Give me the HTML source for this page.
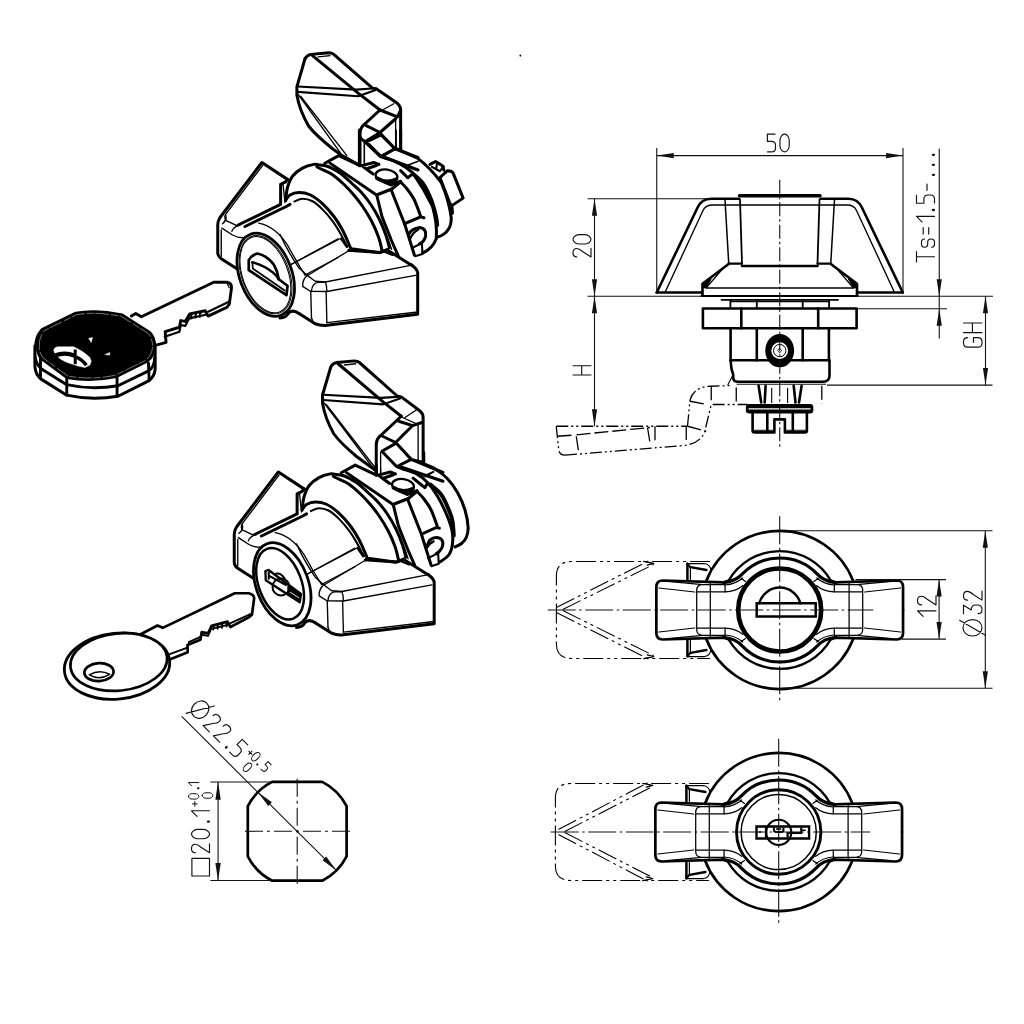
<!DOCTYPE html>
<html><head><meta charset="utf-8"><title>Cam lock drawing</title>
<style>
html,body{margin:0;padding:0;background:#fff;font-family:"Liberation Sans",sans-serif;}
svg{display:block}
</style></head><body>
<svg width="1024" height="1024" viewBox="0 0 1024 1024">
<rect width="1024" height="1024" fill="#fff"/>
<g id="side">
<path d="M656.75,292.5L697.6,207.5Q701.5,199 711,198.75L739,198.75" fill="none" stroke="#000" stroke-width="2.6" stroke-linecap="round" stroke-linejoin="round" />
<path d="M656.75,292.5L701.5,292.5" fill="none" stroke="#000" stroke-width="2.6" stroke-linecap="round" stroke-linejoin="round" />
<path d="M665,292.5L703,210.5Q705.5,205 712.5,205L779.75,205" fill="none" stroke="#000" stroke-width="1.35" stroke-linecap="round" stroke-linejoin="round" />
<path d="M725,199.5L728.75,263.75" fill="none" stroke="#000" stroke-width="1.5" stroke-linecap="round" stroke-linejoin="round" />
<path d="M740,199.5L742,263.75" fill="none" stroke="#000" stroke-width="1.8" stroke-linecap="round" stroke-linejoin="round" />
<path d="M728.5,263.6L742,263.6" fill="none" stroke="#000" stroke-width="2.2" stroke-linecap="round" stroke-linejoin="round" />
<path d="M742,266L779.75,266" fill="none" stroke="#000" stroke-width="2.6" stroke-linecap="round" stroke-linejoin="round" />
<path d="M728,264.5L702.5,283.75L702.5,295" fill="none" stroke="#000" stroke-width="2.6" stroke-linecap="round" stroke-linejoin="round" />
<path d="M721.5,270L706.5,287.6" fill="none" stroke="#000" stroke-width="1.35" stroke-linecap="round" stroke-linejoin="round" />
<path d="M711,279L706,287.6L702.5,287.6L702.5,283.75Z" fill="#000" stroke="#000" stroke-width="1.2" stroke-linecap="round" stroke-linejoin="round" />
<path d="M706,288L779.75,288" fill="none" stroke="#000" stroke-width="1.6" stroke-linecap="round" stroke-linejoin="round" />
<path d="M701.5,296L779.75,296" fill="none" stroke="#000" stroke-width="2.2" stroke-linecap="round" stroke-linejoin="round" />
<path d="M721.5,299.8L779.75,299.8" fill="none" stroke="#000" stroke-width="1.8" stroke-linecap="round" stroke-linejoin="round" />
<path d="M730.4,300L730.4,308M756.8,300L756.8,308" fill="none" stroke="#000" stroke-width="1.8" stroke-linecap="round" stroke-linejoin="round" />
<path d="M730.4,301.5L779.75,301.5" fill="none" stroke="#000" stroke-width="1.35" stroke-linecap="round" stroke-linejoin="round" />
<path d="M779.75,308.5L702.9,308.5L702.9,328.3L779.75,328.3" fill="none" stroke="#000" stroke-width="2.6" stroke-linecap="round" stroke-linejoin="round" />
<path d="M741.3,308.5L741.3,328.3" fill="none" stroke="#000" stroke-width="2.6" stroke-linecap="round" stroke-linejoin="round" />
<path d="M730.6,328.3L730.6,360.3M756.8,328.3L756.8,360.3" fill="none" stroke="#000" stroke-width="2.6" stroke-linecap="round" stroke-linejoin="round" />
<path d="M730.6,360.3L779.75,360.3" fill="none" stroke="#000" stroke-width="2.6" stroke-linecap="round" stroke-linejoin="round" />
<path d="M902.75,292.5L861.9,207.5Q858.0,199 848.5,198.75L820.5,198.75" fill="none" stroke="#000" stroke-width="2.6" stroke-linecap="round" stroke-linejoin="round" />
<path d="M902.75,292.5L858.0,292.5" fill="none" stroke="#000" stroke-width="2.6" stroke-linecap="round" stroke-linejoin="round" />
<path d="M894.5,292.5L856.5,210.5Q854.0,205 847.0,205L779.75,205" fill="none" stroke="#000" stroke-width="1.35" stroke-linecap="round" stroke-linejoin="round" />
<path d="M834.5,199.5L830.75,263.75" fill="none" stroke="#000" stroke-width="1.5" stroke-linecap="round" stroke-linejoin="round" />
<path d="M819.5,199.5L817.5,263.75" fill="none" stroke="#000" stroke-width="1.8" stroke-linecap="round" stroke-linejoin="round" />
<path d="M831.0,263.6L817.5,263.6" fill="none" stroke="#000" stroke-width="2.2" stroke-linecap="round" stroke-linejoin="round" />
<path d="M817.5,266L779.75,266" fill="none" stroke="#000" stroke-width="2.6" stroke-linecap="round" stroke-linejoin="round" />
<path d="M831.5,264.5L857.0,283.75L857.0,295" fill="none" stroke="#000" stroke-width="2.6" stroke-linecap="round" stroke-linejoin="round" />
<path d="M838.0,270L853.0,287.6" fill="none" stroke="#000" stroke-width="1.35" stroke-linecap="round" stroke-linejoin="round" />
<path d="M848.5,279L853.5,287.6L857.0,287.6L857.0,283.75Z" fill="#000" stroke="#000" stroke-width="1.2" stroke-linecap="round" stroke-linejoin="round" />
<path d="M853.5,288L779.75,288" fill="none" stroke="#000" stroke-width="1.6" stroke-linecap="round" stroke-linejoin="round" />
<path d="M858.0,296L779.75,296" fill="none" stroke="#000" stroke-width="2.2" stroke-linecap="round" stroke-linejoin="round" />
<path d="M838.0,299.8L779.75,299.8" fill="none" stroke="#000" stroke-width="1.8" stroke-linecap="round" stroke-linejoin="round" />
<path d="M829.1,300L829.1,308M802.7,300L802.7,308" fill="none" stroke="#000" stroke-width="1.8" stroke-linecap="round" stroke-linejoin="round" />
<path d="M829.1,301.5L779.75,301.5" fill="none" stroke="#000" stroke-width="1.35" stroke-linecap="round" stroke-linejoin="round" />
<path d="M779.75,308.5L856.6,308.5L856.6,328.3L779.75,328.3" fill="none" stroke="#000" stroke-width="2.6" stroke-linecap="round" stroke-linejoin="round" />
<path d="M818.2,308.5L818.2,328.3" fill="none" stroke="#000" stroke-width="2.6" stroke-linecap="round" stroke-linejoin="round" />
<path d="M828.9,328.3L828.9,360.3M802.7,328.3L802.7,360.3" fill="none" stroke="#000" stroke-width="2.6" stroke-linecap="round" stroke-linejoin="round" />
<path d="M828.9,360.3L779.75,360.3" fill="none" stroke="#000" stroke-width="2.6" stroke-linecap="round" stroke-linejoin="round" />
<path d="M739.5,195.8L820.0,195.8" fill="none" stroke="#000" stroke-width="3.4" stroke-linecap="round" stroke-linejoin="round" />
<path d="M730.6,360.3L731.5,369L733.2,374.4L733.2,377.5Q733.2,381.8 738,381.8L822,381.8Q829.5,381.8 829.5,376L829.5,360.3" fill="none" stroke="#000" stroke-width="2.6" stroke-linecap="round" stroke-linejoin="round" />
<path d="M736.6,384.3L826.2,384.3" fill="none" stroke="#111" stroke-width="1.1" stroke-linecap="butt" stroke-linejoin="round" />
<path d="M727.8,385L732.4,376" fill="none" stroke="#111" stroke-width="1.2" stroke-linecap="butt" stroke-linejoin="round" />
<ellipse cx="779.7" cy="350.6" rx="14.4" ry="16.7" fill="#000" stroke="#000" stroke-width="0"/>
<circle cx="779.7" cy="350.6" r="8.4" fill="#fff" stroke="#000" stroke-width="0"/>
<circle cx="779.7" cy="350.6" r="6.2" fill="none" stroke="#000" stroke-width="1.0"/>
<path d="M779.7,348.3L781.6,350.6L779.7,352.9L777.8,350.6Z" fill="none" stroke="#000" stroke-width="0.8" stroke-linecap="round" stroke-linejoin="round" />
<path d="M758.6,385.8L761.2,402.5M765.6,385.8L764.7,402.5M801.6,385.8L799,402.5M793.7,385.8L795.5,402.5" fill="none" stroke="#000" stroke-width="2.6" stroke-linecap="round" stroke-linejoin="round" />
<path d="M771.7,388.4L771.7,402.5M787.6,388.4L787.6,402.5" fill="none" stroke="#000" stroke-width="1.1" stroke-linecap="round" stroke-linejoin="round" />
<rect x="745.9" y="404" width="67.4" height="9.4" rx="3.2" fill="#000"/>
<path d="M748.5,408.8L810.6,408.8" fill="none" stroke="#fff" stroke-width="1.2" stroke-linecap="butt" stroke-linejoin="round" />
<path d="M752.6,413L752.6,430.5Q752.6,432.4 754.5,432.4L774.4,432.4L774.4,419.4L784.9,419.4L784.9,432.4L805,432.4Q806.9,432.4 806.9,430.5L806.9,413" fill="none" stroke="#000" stroke-width="2.6" stroke-linecap="round" stroke-linejoin="round" />
<path d="M767.3,413L767.3,432M792.8,413L792.8,432" fill="none" stroke="#000" stroke-width="2.6" stroke-linecap="round" stroke-linejoin="round" />
<path d="M753,430.3L774,430.3M785,430.3L806.5,430.3" fill="none" stroke="#000" stroke-width="1" stroke-linecap="round" stroke-linejoin="round" />
<path d="M779.75,179.8L779.75,447" fill="none" stroke="#111" stroke-width="1.1" stroke-linecap="butt" stroke-linejoin="round" stroke-dasharray="14 3 2.5 3" />
<path d="M556.25,426.25L687.5,426.25M556.25,426.25L558.75,450Q559.5,455 565,455.2M565,455.2L680,445.8Q699,445 704.5,432.5L711.25,404.5L747.5,404.5M687.5,426.25L690,400Q694,386.5 711,386.25L732.5,385.5" fill="none" stroke="#000" stroke-width="1.3" stroke-linecap="butt" stroke-linejoin="round" stroke-dasharray="12 3 2 3 2 3" />
<path d="M557.5,436.25L575,435M576.5,434.8L650,427.5M655,426.25L655,441.25M647.5,427.5L650,442.5M576.25,436.25L578.75,452.5M686.25,426.25L686.25,440M687.5,426.25L706.25,431.25M690,401.25L706.25,404.25M711.25,386.25L711.25,404.25M736.25,387.5L736.25,404.25M821.8,385.8L821.8,404" fill="none" stroke="#000" stroke-width="1.3" stroke-linecap="butt" stroke-linejoin="round" stroke-dasharray="14 4" />
<path d="M656.75,148L656.75,292.5" fill="none" stroke="#111" stroke-width="1.1" stroke-linecap="butt" stroke-linejoin="round" />
<path d="M903,148L903,292.5" fill="none" stroke="#111" stroke-width="1.1" stroke-linecap="butt" stroke-linejoin="round" />
<path d="M656.75,155.6L903,155.6" fill="none" stroke="#111" stroke-width="1.1" stroke-linecap="butt" stroke-linejoin="round" />
<path d="M656.75,155.60L673.75,158.20L673.75,153.00Z" fill="#111" stroke="none"/>
<path d="M903.00,155.60L886.00,153.00L886.00,158.20Z" fill="#111" stroke="none"/>
<g transform="translate(766.6,151.9) rotate(0) scale(0.9889)" fill="none" stroke="#111" stroke-linecap="round" stroke-linejoin="round"><path d="M8.6,-18L0.8,-18L0.8,-10.6L4.8,-10.6C7.4,-10.6 9,-9 9,-6.6L9,-4C9,-1.6 7.4,0 4.8,0L1,0" transform="translate(0.00,0)" stroke-width="1.16"/><path d="M5,-18C2.2,-18 0.3,-14.5 0.3,-11.5L0.3,-6.5C0.3,-3.5 2.2,0 5,0C7.8,0 9.7,-3.5 9.7,-6.5L9.7,-11.5C9.7,-14.5 7.8,-18 5,-18Z" transform="translate(13.20,0)" stroke-width="1.16"/></g>
<path d="M587.5,198.75L710,198.75" fill="none" stroke="#111" stroke-width="1.1" stroke-linecap="butt" stroke-linejoin="round" />
<path d="M587.5,296.25L701,296.25" fill="none" stroke="#111" stroke-width="1.1" stroke-linecap="butt" stroke-linejoin="round" />
<path d="M594.5,198.75L594.5,426.25" fill="none" stroke="#111" stroke-width="1.1" stroke-linecap="butt" stroke-linejoin="round" />
<path d="M594.50,198.75L591.90,215.75L597.10,215.75Z" fill="#111" stroke="none"/>
<path d="M594.50,296.25L597.10,279.25L591.90,279.25Z" fill="#111" stroke="none"/>
<path d="M594.50,296.25L591.90,313.25L597.10,313.25Z" fill="#111" stroke="none"/>
<path d="M594.50,426.25L597.10,409.25L591.90,409.25Z" fill="#111" stroke="none"/>
<g transform="translate(591,257.5) rotate(-90) scale(1.0000)" fill="none" stroke="#111" stroke-linecap="round" stroke-linejoin="round"><path d="M0.5,-14C0.5,-16.8 2.2,-18 4.8,-18C7.4,-18 9,-16.8 9,-14.2C9,-12 8,-10.8 6,-8.5L0.5,0L9.3,0" transform="translate(0.00,0)" stroke-width="1.15"/><path d="M5,-18C2.2,-18 0.3,-14.5 0.3,-11.5L0.3,-6.5C0.3,-3.5 2.2,0 5,0C7.8,0 9.7,-3.5 9.7,-6.5L9.7,-11.5C9.7,-14.5 7.8,-18 5,-18Z" transform="translate(13.20,0)" stroke-width="1.15"/></g>
<g transform="translate(591,375.5) rotate(-90) scale(1.0000)" fill="none" stroke="#111" stroke-linecap="round" stroke-linejoin="round"><path d="M0.5,-18L0.5,0M9.8,-18L9.8,0M0.5,-9.3L9.8,-9.3" transform="translate(0.00,0)" stroke-width="1.15"/></g>
<path d="M939.25,148.75L939.25,338.5" fill="none" stroke="#111" stroke-width="1.1" stroke-linecap="butt" stroke-linejoin="round" />
<path d="M939.25,296.25L941.85,279.25L936.65,279.25Z" fill="#111" stroke="none"/>
<path d="M939.25,308.75L936.65,325.75L941.85,325.75Z" fill="#111" stroke="none"/>
<path d="M859,296.25L993,296.25" fill="none" stroke="#111" stroke-width="1.1" stroke-linecap="butt" stroke-linejoin="round" />
<path d="M857,308.75L947,308.75" fill="none" stroke="#111" stroke-width="1.1" stroke-linecap="butt" stroke-linejoin="round" />
<path d="M985.5,296.25L985.5,385.1" fill="none" stroke="#111" stroke-width="1.1" stroke-linecap="butt" stroke-linejoin="round" />
<path d="M985.50,296.25L982.90,313.25L988.10,313.25Z" fill="#111" stroke="none"/>
<path d="M985.50,385.10L988.10,368.10L982.90,368.10Z" fill="#111" stroke="none"/>
<path d="M827,385.1L992.5,385.1" fill="none" stroke="#111" stroke-width="1.1" stroke-linecap="butt" stroke-linejoin="round" />
<g transform="translate(982,347.7) rotate(-90) scale(1.0278)" fill="none" stroke="#111" stroke-linecap="round" stroke-linejoin="round"><path d="M9.8,-14C9.8,-16.8 8.2,-18 5.8,-18L4.5,-18C2.1,-18 0.5,-16.8 0.5,-14L0.5,-4C0.5,-1.2 2.1,0 4.5,0L5.8,0C8.2,0 9.8,-1.2 9.8,-4L9.8,-8.3L5.2,-8.3" transform="translate(0.00,0)" stroke-width="1.12"/><path d="M0.5,-18L0.5,0M9.8,-18L9.8,0M0.5,-9.3L9.8,-9.3" transform="translate(14.20,0)" stroke-width="1.12"/></g>
<g transform="translate(934.5,262) rotate(-90) scale(1.0000)" fill="none" stroke="#111" stroke-linecap="round" stroke-linejoin="round"><path d="M0,-18L10.5,-18M5.25,-18L5.25,0" transform="translate(0.00,0)" stroke-width="1.15"/><path d="M8.8,-10C8.8,-12 7.6,-13 5.6,-13L3.8,-13C1.8,-13 0.6,-12 0.6,-10C0.6,-7.8 1.8,-6.8 3.8,-6.8L5.6,-6.8C7.6,-6.8 8.8,-5.8 8.8,-3.4C8.8,-1 7.6,0 5.6,0L3.8,0C1.8,0 0.6,-1 0.6,-2.8" transform="translate(14.20,0)" stroke-width="1.15"/><path d="M0.5,-11.3L7,-11.3M0.5,-5.8L7,-5.8" transform="translate(27.40,0)" stroke-width="1.15"/><path d="M1.5,-12.5L7,-18L7,0" transform="translate(38.60,0)" stroke-width="1.15"/><path d="M1.2,-1.6L1.2,-0.6" transform="translate(50.80,0)" stroke-width="2.30" /><path d="M8.6,-18L0.8,-18L0.8,-10.6L4.8,-10.6C7.4,-10.6 9,-9 9,-6.6L9,-4C9,-1.6 7.4,0 4.8,0L1,0" transform="translate(58.00,0)" stroke-width="1.15"/><path d="M0.5,-7.5L6.8,-7.5" transform="translate(71.20,0)" stroke-width="1.15"/></g>
<g transform="translate(934.5,176) rotate(-90) scale(1.0000)" fill="none" stroke="#111" stroke-linecap="round" stroke-linejoin="round"><path d="M1.2,-1.6L1.2,-0.6" transform="translate(0.00,0)" stroke-width="2.30" /><path d="M1.2,-1.6L1.2,-0.6" transform="translate(10.00,0)" stroke-width="2.30" /><path d="M1.2,-1.6L1.2,-0.6" transform="translate(20.00,0)" stroke-width="2.30" /></g>
</g>
<g id="top">
<g transform="translate(779.7,610)" ><g transform="scale(1,1)" ><path d="M-51.2,-29.1A58.9,58.9 0 0 1 0,-58.9" fill="none" stroke="#000" stroke-width="2.3" stroke-linecap="round" stroke-linejoin="round" />
<path d="M-56,-27.3C-47,-28.5 -42,-31 -37.6,-35.9A52,52 0 0 1 0,-52" fill="none" stroke="#000" stroke-width="3.1" stroke-linecap="round" stroke-linejoin="round" />
<path d="M-51.2,-29.1L-56,-27.6L-117,-29.5Q-123.35,-29.5 -123.35,-23L-123.35,0" fill="none" stroke="#000" stroke-width="2.7" stroke-linecap="round" stroke-linejoin="round" />
<path d="M-120.8,-22L-85,-18" fill="none" stroke="#000" stroke-width="1.25" stroke-linecap="round" stroke-linejoin="round" />
<path d="M-83,0L-83,-19.5Q-83,-25.3 -77,-25.3L-54.6,-25.3L-54.6,-18.2M-83,-18.2L-54.6,-18.2M-77,-25.3L-112,-28.7" fill="none" stroke="#000" stroke-width="1.25" stroke-linecap="round" stroke-linejoin="round" />
<path d="M-69.4,0L-69.4,-27" fill="none" stroke="#000" stroke-width="1.25" stroke-linecap="round" stroke-linejoin="round" />
<path d="M-54.6,-25C-48,-25.5 -42,-27.5 -37.1,-32M-38.5,-31.6L-34.2,-28.6" fill="none" stroke="#000" stroke-width="1.25" stroke-linecap="round" stroke-linejoin="round" />
<path d="M-54.6,-18.2C-47,-18.5 -41,-21 -37,-24.3" fill="none" stroke="#000" stroke-width="1.25" stroke-linecap="round" stroke-linejoin="round" /></g>
<g transform="scale(-1,1)" ><path d="M-51.2,-29.1A58.9,58.9 0 0 1 0,-58.9" fill="none" stroke="#000" stroke-width="2.3" stroke-linecap="round" stroke-linejoin="round" />
<path d="M-56,-27.3C-47,-28.5 -42,-31 -37.6,-35.9A52,52 0 0 1 0,-52" fill="none" stroke="#000" stroke-width="3.1" stroke-linecap="round" stroke-linejoin="round" />
<path d="M-51.2,-29.1L-56,-27.6L-117,-29.5Q-123.35,-29.5 -123.35,-23L-123.35,0" fill="none" stroke="#000" stroke-width="2.7" stroke-linecap="round" stroke-linejoin="round" />
<path d="M-120.8,-22L-85,-18" fill="none" stroke="#000" stroke-width="1.25" stroke-linecap="round" stroke-linejoin="round" />
<path d="M-83,0L-83,-19.5Q-83,-25.3 -77,-25.3L-54.6,-25.3L-54.6,-18.2M-83,-18.2L-54.6,-18.2M-77,-25.3L-112,-28.7" fill="none" stroke="#000" stroke-width="1.25" stroke-linecap="round" stroke-linejoin="round" />
<path d="M-69.4,0L-69.4,-27" fill="none" stroke="#000" stroke-width="1.25" stroke-linecap="round" stroke-linejoin="round" />
<path d="M-54.6,-25C-48,-25.5 -42,-27.5 -37.1,-32M-38.5,-31.6L-34.2,-28.6" fill="none" stroke="#000" stroke-width="1.25" stroke-linecap="round" stroke-linejoin="round" />
<path d="M-54.6,-18.2C-47,-18.5 -41,-21 -37,-24.3" fill="none" stroke="#000" stroke-width="1.25" stroke-linecap="round" stroke-linejoin="round" /></g>
<g transform="scale(1,-1)" ><path d="M-51.2,-29.1A58.9,58.9 0 0 1 0,-58.9" fill="none" stroke="#000" stroke-width="2.3" stroke-linecap="round" stroke-linejoin="round" />
<path d="M-56,-27.3C-47,-28.5 -42,-31 -37.6,-35.9A52,52 0 0 1 0,-52" fill="none" stroke="#000" stroke-width="3.1" stroke-linecap="round" stroke-linejoin="round" />
<path d="M-51.2,-29.1L-56,-27.6L-117,-29.5Q-123.35,-29.5 -123.35,-23L-123.35,0" fill="none" stroke="#000" stroke-width="2.7" stroke-linecap="round" stroke-linejoin="round" />
<path d="M-120.8,-22L-85,-18" fill="none" stroke="#000" stroke-width="1.25" stroke-linecap="round" stroke-linejoin="round" />
<path d="M-83,0L-83,-19.5Q-83,-25.3 -77,-25.3L-54.6,-25.3L-54.6,-18.2M-83,-18.2L-54.6,-18.2M-77,-25.3L-112,-28.7" fill="none" stroke="#000" stroke-width="1.25" stroke-linecap="round" stroke-linejoin="round" />
<path d="M-69.4,0L-69.4,-27" fill="none" stroke="#000" stroke-width="1.25" stroke-linecap="round" stroke-linejoin="round" />
<path d="M-54.6,-25C-48,-25.5 -42,-27.5 -37.1,-32M-38.5,-31.6L-34.2,-28.6" fill="none" stroke="#000" stroke-width="1.25" stroke-linecap="round" stroke-linejoin="round" />
<path d="M-54.6,-18.2C-47,-18.5 -41,-21 -37,-24.3" fill="none" stroke="#000" stroke-width="1.25" stroke-linecap="round" stroke-linejoin="round" /></g>
<g transform="scale(-1,-1)" ><path d="M-51.2,-29.1A58.9,58.9 0 0 1 0,-58.9" fill="none" stroke="#000" stroke-width="2.3" stroke-linecap="round" stroke-linejoin="round" />
<path d="M-56,-27.3C-47,-28.5 -42,-31 -37.6,-35.9A52,52 0 0 1 0,-52" fill="none" stroke="#000" stroke-width="3.1" stroke-linecap="round" stroke-linejoin="round" />
<path d="M-51.2,-29.1L-56,-27.6L-117,-29.5Q-123.35,-29.5 -123.35,-23L-123.35,0" fill="none" stroke="#000" stroke-width="2.7" stroke-linecap="round" stroke-linejoin="round" />
<path d="M-120.8,-22L-85,-18" fill="none" stroke="#000" stroke-width="1.25" stroke-linecap="round" stroke-linejoin="round" />
<path d="M-83,0L-83,-19.5Q-83,-25.3 -77,-25.3L-54.6,-25.3L-54.6,-18.2M-83,-18.2L-54.6,-18.2M-77,-25.3L-112,-28.7" fill="none" stroke="#000" stroke-width="1.25" stroke-linecap="round" stroke-linejoin="round" />
<path d="M-69.4,0L-69.4,-27" fill="none" stroke="#000" stroke-width="1.25" stroke-linecap="round" stroke-linejoin="round" />
<path d="M-54.6,-25C-48,-25.5 -42,-27.5 -37.1,-32M-38.5,-31.6L-34.2,-28.6" fill="none" stroke="#000" stroke-width="1.25" stroke-linecap="round" stroke-linejoin="round" />
<path d="M-54.6,-18.2C-47,-18.5 -41,-21 -37,-24.3" fill="none" stroke="#000" stroke-width="1.25" stroke-linecap="round" stroke-linejoin="round" /></g>
<g ><path d="M-92.6,-46.5L-75,-46.5Q-69.5,-45.5 -68.6,-39.5L-72.2,-30" fill="none" stroke="#000" stroke-width="1.25" stroke-linecap="round" stroke-linejoin="round" />
<path d="M-92.3,-46.2L-92.3,-30.5" fill="none" stroke="#000" stroke-width="2.5" stroke-linecap="round" stroke-linejoin="round" />
<path d="M-92.3,-46.2L-89.3,-42.8L-73.2,-40" fill="none" stroke="#000" stroke-width="2.3" stroke-linecap="round" stroke-linejoin="round" />
<path d="M-89.3,-42.8L-89.3,-30.5" fill="none" stroke="#000" stroke-width="1.25" stroke-linecap="round" stroke-linejoin="round" /></g>
<g transform="scale(1,-1)" ><path d="M-92.6,-46.5L-75,-46.5Q-69.5,-45.5 -68.6,-39.5L-72.2,-30" fill="none" stroke="#000" stroke-width="1.25" stroke-linecap="round" stroke-linejoin="round" />
<path d="M-92.3,-46.2L-92.3,-30.5" fill="none" stroke="#000" stroke-width="2.5" stroke-linecap="round" stroke-linejoin="round" />
<path d="M-92.3,-46.2L-89.3,-42.8L-73.2,-40" fill="none" stroke="#000" stroke-width="2.3" stroke-linecap="round" stroke-linejoin="round" />
<path d="M-89.3,-42.8L-89.3,-30.5" fill="none" stroke="#000" stroke-width="1.25" stroke-linecap="round" stroke-linejoin="round" /></g>
<path d="M-69.6,-48.5L-208,-48.5Q-223.3,-48.5 -223.3,-34L-223.3,34Q-223.3,48.5 -208,48.5L-69.6,48.5" fill="none" stroke="#000" stroke-width="1.1" stroke-linecap="butt" stroke-linejoin="round" stroke-dasharray="20 4 3 4 3 4" />
<path d="M-223.3,-2.5L-131,-49.2M-217.0,-0.5L-126,-45.6" fill="none" stroke="#000" stroke-width="1.1" stroke-linecap="butt" stroke-linejoin="round" stroke-dasharray="20 4 3 4 3 4" />
<path d="M-136,-48.6L-126,-46.6L-132.5,-44.8" fill="none" stroke="#000" stroke-width="1.25" stroke-linecap="round" stroke-linejoin="round" />
<path d="M-223.3,2.5L-131,49.2M-217.0,0.5L-126,45.6" fill="none" stroke="#000" stroke-width="1.1" stroke-linecap="butt" stroke-linejoin="round" stroke-dasharray="20 4 3 4 3 4" />
<path d="M-136,48.6L-126,46.6L-132.5,44.8" fill="none" stroke="#000" stroke-width="1.25" stroke-linecap="round" stroke-linejoin="round" />
<path d="M-73.4,-29.3A79,79 0 0 1 73.4,-29.3M-73.4,29.3A79,79 0 0 0 73.4,29.3" fill="none" stroke="#000" stroke-width="2.6" stroke-linecap="round" stroke-linejoin="round" />
<circle cx="0" cy="0" r="41.5" fill="none" stroke="#000" stroke-width="4.6"/>
<path d="M-20.5,-6.8A21.4,21.4 0 0 1 20.7,-6.8" fill="none" stroke="#000" stroke-width="2.5" stroke-linecap="round" stroke-linejoin="round" />
<path d="M-23,-6.8L36,-6.8L36,6.4L-23,6.4Z" fill="none" stroke="#000" stroke-width="2.5" stroke-linecap="round" stroke-linejoin="miter" />
<path d="M-232,0L93.5,0" fill="none" stroke="#111" stroke-width="1.1" stroke-linecap="butt" stroke-linejoin="round" stroke-dasharray="28 3.5 2.5 3.5" />
<path d="M0,-93.75L0,92.5" fill="none" stroke="#111" stroke-width="1.1" stroke-linecap="butt" stroke-linejoin="round" stroke-dasharray="28 3.5 2.5 3.5" /></g>
<g transform="translate(778.7,832.0)" ><g transform="scale(1,1)" ><path d="M-51.2,-29.1A58.9,58.9 0 0 1 0,-58.9" fill="none" stroke="#000" stroke-width="2.3" stroke-linecap="round" stroke-linejoin="round" />
<path d="M-56,-27.3C-47,-28.5 -42,-31 -37.6,-35.9A52,52 0 0 1 0,-52" fill="none" stroke="#000" stroke-width="3.1" stroke-linecap="round" stroke-linejoin="round" />
<path d="M-51.2,-29.1L-56,-27.6L-117,-29.5Q-123.35,-29.5 -123.35,-23L-123.35,0" fill="none" stroke="#000" stroke-width="2.7" stroke-linecap="round" stroke-linejoin="round" />
<path d="M-120.8,-22L-85,-18" fill="none" stroke="#000" stroke-width="1.25" stroke-linecap="round" stroke-linejoin="round" />
<path d="M-83,0L-83,-19.5Q-83,-25.3 -77,-25.3L-54.6,-25.3L-54.6,-18.2M-83,-18.2L-54.6,-18.2M-77,-25.3L-112,-28.7" fill="none" stroke="#000" stroke-width="1.25" stroke-linecap="round" stroke-linejoin="round" />
<path d="M-69.4,0L-69.4,-27" fill="none" stroke="#000" stroke-width="1.25" stroke-linecap="round" stroke-linejoin="round" />
<path d="M-54.6,-25C-48,-25.5 -42,-27.5 -37.1,-32M-38.5,-31.6L-34.2,-28.6" fill="none" stroke="#000" stroke-width="1.25" stroke-linecap="round" stroke-linejoin="round" />
<path d="M-54.6,-18.2C-47,-18.5 -41,-21 -37,-24.3" fill="none" stroke="#000" stroke-width="1.25" stroke-linecap="round" stroke-linejoin="round" /></g>
<g transform="scale(-1,1)" ><path d="M-51.2,-29.1A58.9,58.9 0 0 1 0,-58.9" fill="none" stroke="#000" stroke-width="2.3" stroke-linecap="round" stroke-linejoin="round" />
<path d="M-56,-27.3C-47,-28.5 -42,-31 -37.6,-35.9A52,52 0 0 1 0,-52" fill="none" stroke="#000" stroke-width="3.1" stroke-linecap="round" stroke-linejoin="round" />
<path d="M-51.2,-29.1L-56,-27.6L-117,-29.5Q-123.35,-29.5 -123.35,-23L-123.35,0" fill="none" stroke="#000" stroke-width="2.7" stroke-linecap="round" stroke-linejoin="round" />
<path d="M-120.8,-22L-85,-18" fill="none" stroke="#000" stroke-width="1.25" stroke-linecap="round" stroke-linejoin="round" />
<path d="M-83,0L-83,-19.5Q-83,-25.3 -77,-25.3L-54.6,-25.3L-54.6,-18.2M-83,-18.2L-54.6,-18.2M-77,-25.3L-112,-28.7" fill="none" stroke="#000" stroke-width="1.25" stroke-linecap="round" stroke-linejoin="round" />
<path d="M-69.4,0L-69.4,-27" fill="none" stroke="#000" stroke-width="1.25" stroke-linecap="round" stroke-linejoin="round" />
<path d="M-54.6,-25C-48,-25.5 -42,-27.5 -37.1,-32M-38.5,-31.6L-34.2,-28.6" fill="none" stroke="#000" stroke-width="1.25" stroke-linecap="round" stroke-linejoin="round" />
<path d="M-54.6,-18.2C-47,-18.5 -41,-21 -37,-24.3" fill="none" stroke="#000" stroke-width="1.25" stroke-linecap="round" stroke-linejoin="round" /></g>
<g transform="scale(1,-1)" ><path d="M-51.2,-29.1A58.9,58.9 0 0 1 0,-58.9" fill="none" stroke="#000" stroke-width="2.3" stroke-linecap="round" stroke-linejoin="round" />
<path d="M-56,-27.3C-47,-28.5 -42,-31 -37.6,-35.9A52,52 0 0 1 0,-52" fill="none" stroke="#000" stroke-width="3.1" stroke-linecap="round" stroke-linejoin="round" />
<path d="M-51.2,-29.1L-56,-27.6L-117,-29.5Q-123.35,-29.5 -123.35,-23L-123.35,0" fill="none" stroke="#000" stroke-width="2.7" stroke-linecap="round" stroke-linejoin="round" />
<path d="M-120.8,-22L-85,-18" fill="none" stroke="#000" stroke-width="1.25" stroke-linecap="round" stroke-linejoin="round" />
<path d="M-83,0L-83,-19.5Q-83,-25.3 -77,-25.3L-54.6,-25.3L-54.6,-18.2M-83,-18.2L-54.6,-18.2M-77,-25.3L-112,-28.7" fill="none" stroke="#000" stroke-width="1.25" stroke-linecap="round" stroke-linejoin="round" />
<path d="M-69.4,0L-69.4,-27" fill="none" stroke="#000" stroke-width="1.25" stroke-linecap="round" stroke-linejoin="round" />
<path d="M-54.6,-25C-48,-25.5 -42,-27.5 -37.1,-32M-38.5,-31.6L-34.2,-28.6" fill="none" stroke="#000" stroke-width="1.25" stroke-linecap="round" stroke-linejoin="round" />
<path d="M-54.6,-18.2C-47,-18.5 -41,-21 -37,-24.3" fill="none" stroke="#000" stroke-width="1.25" stroke-linecap="round" stroke-linejoin="round" /></g>
<g transform="scale(-1,-1)" ><path d="M-51.2,-29.1A58.9,58.9 0 0 1 0,-58.9" fill="none" stroke="#000" stroke-width="2.3" stroke-linecap="round" stroke-linejoin="round" />
<path d="M-56,-27.3C-47,-28.5 -42,-31 -37.6,-35.9A52,52 0 0 1 0,-52" fill="none" stroke="#000" stroke-width="3.1" stroke-linecap="round" stroke-linejoin="round" />
<path d="M-51.2,-29.1L-56,-27.6L-117,-29.5Q-123.35,-29.5 -123.35,-23L-123.35,0" fill="none" stroke="#000" stroke-width="2.7" stroke-linecap="round" stroke-linejoin="round" />
<path d="M-120.8,-22L-85,-18" fill="none" stroke="#000" stroke-width="1.25" stroke-linecap="round" stroke-linejoin="round" />
<path d="M-83,0L-83,-19.5Q-83,-25.3 -77,-25.3L-54.6,-25.3L-54.6,-18.2M-83,-18.2L-54.6,-18.2M-77,-25.3L-112,-28.7" fill="none" stroke="#000" stroke-width="1.25" stroke-linecap="round" stroke-linejoin="round" />
<path d="M-69.4,0L-69.4,-27" fill="none" stroke="#000" stroke-width="1.25" stroke-linecap="round" stroke-linejoin="round" />
<path d="M-54.6,-25C-48,-25.5 -42,-27.5 -37.1,-32M-38.5,-31.6L-34.2,-28.6" fill="none" stroke="#000" stroke-width="1.25" stroke-linecap="round" stroke-linejoin="round" />
<path d="M-54.6,-18.2C-47,-18.5 -41,-21 -37,-24.3" fill="none" stroke="#000" stroke-width="1.25" stroke-linecap="round" stroke-linejoin="round" /></g>
<g ><path d="M-92.6,-46.5L-75,-46.5Q-69.5,-45.5 -68.6,-39.5L-72.2,-30" fill="none" stroke="#000" stroke-width="1.25" stroke-linecap="round" stroke-linejoin="round" />
<path d="M-92.3,-46.2L-92.3,-30.5" fill="none" stroke="#000" stroke-width="2.5" stroke-linecap="round" stroke-linejoin="round" />
<path d="M-92.3,-46.2L-89.3,-42.8L-73.2,-40" fill="none" stroke="#000" stroke-width="2.3" stroke-linecap="round" stroke-linejoin="round" />
<path d="M-89.3,-42.8L-89.3,-30.5" fill="none" stroke="#000" stroke-width="1.25" stroke-linecap="round" stroke-linejoin="round" /></g>
<g transform="scale(1,-1)" ><path d="M-92.6,-46.5L-75,-46.5Q-69.5,-45.5 -68.6,-39.5L-72.2,-30" fill="none" stroke="#000" stroke-width="1.25" stroke-linecap="round" stroke-linejoin="round" />
<path d="M-92.3,-46.2L-92.3,-30.5" fill="none" stroke="#000" stroke-width="2.5" stroke-linecap="round" stroke-linejoin="round" />
<path d="M-92.3,-46.2L-89.3,-42.8L-73.2,-40" fill="none" stroke="#000" stroke-width="2.3" stroke-linecap="round" stroke-linejoin="round" />
<path d="M-89.3,-42.8L-89.3,-30.5" fill="none" stroke="#000" stroke-width="1.25" stroke-linecap="round" stroke-linejoin="round" /></g>
<path d="M-69.6,-48.5L-208,-48.5Q-223.3,-48.5 -223.3,-34L-223.3,34Q-223.3,48.5 -208,48.5L-69.6,48.5" fill="none" stroke="#000" stroke-width="1.1" stroke-linecap="butt" stroke-linejoin="round" stroke-dasharray="20 4 3 4 3 4" />
<path d="M-220.3,-2.5L-131,-49.2M-214.0,-0.5L-126,-45.6" fill="none" stroke="#000" stroke-width="1.1" stroke-linecap="butt" stroke-linejoin="round" stroke-dasharray="20 4 3 4 3 4" />
<path d="M-136,-48.6L-126,-46.6L-132.5,-44.8" fill="none" stroke="#000" stroke-width="1.25" stroke-linecap="round" stroke-linejoin="round" />
<path d="M-220.3,2.5L-131,49.2M-214.0,0.5L-126,45.6" fill="none" stroke="#000" stroke-width="1.1" stroke-linecap="butt" stroke-linejoin="round" stroke-dasharray="20 4 3 4 3 4" />
<path d="M-136,48.6L-126,46.6L-132.5,44.8" fill="none" stroke="#000" stroke-width="1.25" stroke-linecap="round" stroke-linejoin="round" />
<path d="M-73.4,-29.3A79,79 0 0 1 73.4,-29.3M-73.4,29.3A79,79 0 0 0 73.4,29.3" fill="none" stroke="#000" stroke-width="2.6" stroke-linecap="round" stroke-linejoin="round" />
<circle cx="0" cy="0" r="42.2" fill="none" stroke="#000" stroke-width="2.9"/>
<circle cx="0" cy="0" r="37.6" fill="none" stroke="#000" stroke-width="1.5"/>
<circle cx="0" cy="0.3" r="12.6" fill="none" stroke="#000" stroke-width="2.1"/>
<path d="M-22.2,-5.5L30.4,-5.5L30.4,6.5L-22.2,6.5Z" fill="none" stroke="#000" stroke-width="2.4" stroke-linecap="round" stroke-linejoin="miter" />
<path d="M-12.6,-5.5L-12.6,6.5" fill="none" stroke="#000" stroke-width="2.4" stroke-linecap="butt" stroke-linejoin="round" />
<path d="M8.9,5.5L8.9,1L22.6,1L22.6,-4.4" fill="none" stroke="#000" stroke-width="2.2" stroke-linecap="butt" stroke-linejoin="miter" />
<path d="M-4.8,-4.4L-4.8,-1.9Q-4.6,0 -2.5,0L2.5,0Q4.6,0 4.8,-1.9L4.8,-4.4" fill="none" stroke="#000" stroke-width="2.0" stroke-linecap="butt" stroke-linejoin="round" />
<path d="M-2.6,-3L2.6,-3" fill="none" stroke="#000" stroke-width="1.6" stroke-linecap="butt" stroke-linejoin="round" />
<path d="M-20,0L-17.5,0M23.5,-1.7L27,-1.7" fill="none" stroke="#000" stroke-width="1.6" stroke-linecap="butt" stroke-linejoin="round" />
<path d="M-228,0L91.5,0" fill="none" stroke="#111" stroke-width="1.1" stroke-linecap="butt" stroke-linejoin="round" stroke-dasharray="28 3.5 2.5 3.5" />
<path d="M0,-93.25L0,93" fill="none" stroke="#111" stroke-width="1.1" stroke-linecap="butt" stroke-linejoin="round" stroke-dasharray="28 3.5 2.5 3.5" /></g>
<path d="M780.5,530.8L992.5,530.8" fill="none" stroke="#111" stroke-width="1.1" stroke-linecap="butt" stroke-linejoin="round" />
<path d="M780.5,688.3L992.5,688.3" fill="none" stroke="#111" stroke-width="1.1" stroke-linecap="butt" stroke-linejoin="round" />
<path d="M985.3,530.8L985.3,688.3" fill="none" stroke="#111" stroke-width="1.1" stroke-linecap="butt" stroke-linejoin="round" />
<path d="M985.30,530.80L982.70,547.80L987.90,547.80Z" fill="#111" stroke="none"/>
<path d="M985.30,688.30L987.90,671.30L982.70,671.30Z" fill="#111" stroke="none"/>
<path d="M855.5,579.6L946,579.6" fill="none" stroke="#111" stroke-width="1.1" stroke-linecap="butt" stroke-linejoin="round" />
<path d="M902,639.1L946,639.1" fill="none" stroke="#111" stroke-width="1.1" stroke-linecap="butt" stroke-linejoin="round" />
<path d="M939.1,579.6L939.1,639.1" fill="none" stroke="#111" stroke-width="1.1" stroke-linecap="butt" stroke-linejoin="round" />
<path d="M939.10,579.60L936.50,596.60L941.70,596.60Z" fill="#111" stroke="none"/>
<path d="M939.10,639.10L941.70,622.10L936.50,622.10Z" fill="#111" stroke="none"/>
<g transform="translate(936,618) rotate(-90) scale(1.0278)" fill="none" stroke="#111" stroke-linecap="round" stroke-linejoin="round"><path d="M1.5,-12.5L7,-18L7,0" transform="translate(0.00,0)" stroke-width="1.12"/><path d="M0.5,-14C0.5,-16.8 2.2,-18 4.8,-18C7.4,-18 9,-16.8 9,-14.2C9,-12 8,-10.8 6,-8.5L0.5,0L9.3,0" transform="translate(12.20,0)" stroke-width="1.12"/></g>
<g transform="translate(982,636) rotate(-90) scale(1.0278)" fill="none" stroke="#111" stroke-linecap="round" stroke-linejoin="round"><path d="M8,-18.5C3.5,-18.5 0,-14.5 0,-9.2C0,-4 3.5,0 8,0C12.5,0 16,-4 16,-9.2C16,-14.5 12.5,-18.5 8,-18.5ZM0.7,3.4L15.3,-21.8" transform="translate(0.00,0)" stroke-width="1.12"/><path d="M0.5,-18L8.8,-18L4.2,-10.5C7.2,-10.5 9,-8.8 9,-6.2L9,-4.3C9,-1.7 7.3,0 4.7,0C2.1,0 0.5,-1.5 0.5,-3.8" transform="translate(21.20,0)" stroke-width="1.12"/><path d="M0.5,-14C0.5,-16.8 2.2,-18 4.8,-18C7.4,-18 9,-16.8 9,-14.2C9,-12 8,-10.8 6,-8.5L0.5,0L9.3,0" transform="translate(34.40,0)" stroke-width="1.12"/></g>
</g>
<g id="cutout">
<path d="M272.12,781.9L322.28,781.9A55.4,55.4 0 0 1 346.59999999999997,806.22L346.59999999999997,856.38A55.4,55.4 0 0 1 322.28,880.6999999999999L272.12,880.6999999999999A55.4,55.4 0 0 1 247.79999999999998,856.38L247.79999999999998,806.22A55.4,55.4 0 0 1 272.12,781.9Z" fill="none" stroke="#000" stroke-width="2.7" stroke-linecap="round" stroke-linejoin="round" />
<path d="M245,831.3L350,831.3" fill="none" stroke="#111" stroke-width="1.1" stroke-linecap="butt" stroke-linejoin="round" stroke-dasharray="18 4 3 4" />
<path d="M297.2,778.75L297.2,885" fill="none" stroke="#111" stroke-width="1.1" stroke-linecap="butt" stroke-linejoin="round" stroke-dasharray="18 4 3 4" />
<path d="M181.7,716.4L336.3737156777347,870.4737156777347" fill="none" stroke="#111" stroke-width="1.1" stroke-linecap="butt" stroke-linejoin="round" />
<path d="M258.03,792.13L268.21,805.99L271.89,802.31Z" fill="#111" stroke="none"/>
<path d="M336.37,870.47L326.19,856.61L322.51,860.29Z" fill="#111" stroke="none"/>
<g transform="translate(181.7,716.4) rotate(45)" ><g transform="translate(0,-8.6) rotate(0) scale(1.0000)" fill="none" stroke="#111" stroke-linecap="round" stroke-linejoin="round"><path d="M8,-18.5C3.5,-18.5 0,-14.5 0,-9.2C0,-4 3.5,0 8,0C12.5,0 16,-4 16,-9.2C16,-14.5 12.5,-18.5 8,-18.5ZM0.7,3.4L15.3,-21.8" transform="translate(0.30,0)" stroke-width="1.15"/><path d="M0.5,-14C0.5,-16.8 2.2,-18 4.8,-18C7.4,-18 9,-16.8 9,-14.2C9,-12 8,-10.8 6,-8.5L0.5,0L9.3,0" transform="translate(21.20,0)" stroke-width="1.15"/><path d="M0.5,-14C0.5,-16.8 2.2,-18 4.8,-18C7.4,-18 9,-16.8 9,-14.2C9,-12 8,-10.8 6,-8.5L0.5,0L9.3,0" transform="translate(35.70,0)" stroke-width="1.15"/><path d="M1.2,-1.6L1.2,-0.6" transform="translate(52.20,0)" stroke-width="2.30" /><path d="M8.6,-18L0.8,-18L0.8,-10.6L4.8,-10.6C7.4,-10.6 9,-9 9,-6.6L9,-4C9,-1.6 7.4,0 4.8,0L1,0" transform="translate(58.20,0)" stroke-width="1.15"/></g>
<g transform="translate(0,-18.8) rotate(0) scale(0.5722)" fill="none" stroke="#111" stroke-linecap="round" stroke-linejoin="round"><path d="M0.5,-7L8.5,-7M4.5,-11L4.5,-3" transform="translate(125.30,0)" stroke-width="1.75"/><path d="M5,-18C2.2,-18 0.3,-14.5 0.3,-11.5L0.3,-6.5C0.3,-3.5 2.2,0 5,0C7.8,0 9.7,-3.5 9.7,-6.5L9.7,-11.5C9.7,-14.5 7.8,-18 5,-18Z" transform="translate(136.31,0)" stroke-width="1.75"/><path d="M1.2,-1.6L1.2,-0.6" transform="translate(151.69,0)" stroke-width="3.20" /><path d="M8.6,-18L0.8,-18L0.8,-10.6L4.8,-10.6C7.4,-10.6 9,-9 9,-6.6L9,-4C9,-1.6 7.4,0 4.8,0L1,0" transform="translate(161.83,0)" stroke-width="1.75"/></g>
<g transform="translate(0,-5.4) rotate(0) scale(0.5722)" fill="none" stroke="#111" stroke-linecap="round" stroke-linejoin="round"><path d="M5,-18C2.2,-18 0.3,-14.5 0.3,-11.5L0.3,-6.5C0.3,-3.5 2.2,0 5,0C7.8,0 9.7,-3.5 9.7,-6.5L9.7,-11.5C9.7,-14.5 7.8,-18 5,-18Z" transform="translate(139.11,0)" stroke-width="1.75"/></g></g>
<path d="M210.4,782.05L272.124115170148,782.05" fill="none" stroke="#111" stroke-width="1.1" stroke-linecap="butt" stroke-linejoin="round" />
<path d="M210.4,880.5L272.124115170148,880.5" fill="none" stroke="#111" stroke-width="1.1" stroke-linecap="butt" stroke-linejoin="round" />
<path d="M218.05,782.05L218.05,880.5" fill="none" stroke="#111" stroke-width="1.1" stroke-linecap="butt" stroke-linejoin="round" />
<path d="M218.05,782.05L215.35,799.65L220.75,799.65Z" fill="#111" stroke="none"/>
<path d="M218.05,880.50L220.75,862.90L215.35,862.90Z" fill="#111" stroke="none"/>
<g transform="translate(209.5,876.05) rotate(-90)" ><g transform="translate(0,0) rotate(0) scale(1.0000)" fill="none" stroke="#111" stroke-linecap="round" stroke-linejoin="round"><path d="M0,-17.6L17.6,-17.6L17.6,0L0,0Z" transform="translate(0.00,0)" stroke-width="1.15"/><path d="M0.5,-14C0.5,-16.8 2.2,-18 4.8,-18C7.4,-18 9,-16.8 9,-14.2C9,-12 8,-10.8 6,-8.5L0.5,0L9.3,0" transform="translate(22.85,0)" stroke-width="1.15"/><path d="M5,-18C2.2,-18 0.3,-14.5 0.3,-11.5L0.3,-6.5C0.3,-3.5 2.2,0 5,0C7.8,0 9.7,-3.5 9.7,-6.5L9.7,-11.5C9.7,-14.5 7.8,-18 5,-18Z" transform="translate(36.95,0)" stroke-width="1.15"/><path d="M1.2,-1.6L1.2,-0.6" transform="translate(53.25,0)" stroke-width="2.30" /><path d="M1.5,-12.5L7,-18L7,0" transform="translate(58.25,0)" stroke-width="1.15"/></g>
<g transform="translate(0,-10.6) rotate(0) scale(0.5833)" fill="none" stroke="#111" stroke-linecap="round" stroke-linejoin="round"><path d="M0.5,-7L8.5,-7M4.5,-11L4.5,-3" transform="translate(119.23,0)" stroke-width="1.71"/><path d="M5,-18C2.2,-18 0.3,-14.5 0.3,-11.5L0.3,-6.5C0.3,-3.5 2.2,0 5,0C7.8,0 9.7,-3.5 9.7,-6.5L9.7,-11.5C9.7,-14.5 7.8,-18 5,-18Z" transform="translate(131.57,0)" stroke-width="1.71"/><path d="M1.2,-1.6L1.2,-0.6" transform="translate(149.40,0)" stroke-width="3.20" /><path d="M1.5,-12.5L7,-18L7,0" transform="translate(153.26,0)" stroke-width="1.71"/></g>
<g transform="translate(0,3.25) rotate(0) scale(0.5833)" fill="none" stroke="#111" stroke-linecap="round" stroke-linejoin="round"><path d="M5,-18C2.2,-18 0.3,-14.5 0.3,-11.5L0.3,-6.5C0.3,-3.5 2.2,0 5,0C7.8,0 9.7,-3.5 9.7,-6.5L9.7,-11.5C9.7,-14.5 7.8,-18 5,-18Z" transform="translate(133.11,0)" stroke-width="1.71"/></g></g>
</g>
<g id="lock1">
<g transform="translate(0,0)" ><g transform="translate(210,150) scale(0.125000)" ><path d="M620,235L415,100L80,540Q60,570 62,610L62,825Q65,855 90,870L215,950" fill="none" stroke="#000" stroke-width="24.0" stroke-linecap="round" stroke-linejoin="round" />
<path d="M565,275L565,425M565,275L605,255L620,235" fill="none" stroke="#000" stroke-width="24.0" stroke-linecap="round" stroke-linejoin="round" />
<path d="M225,600L565,435M280,612L610,452L640,435" fill="none" stroke="#000" stroke-width="24.0" stroke-linecap="round" stroke-linejoin="round" />
<path d="M420,125L125,515Q110,545 130,565L215,605L240,600" fill="none" stroke="#000" stroke-width="10.8" stroke-linecap="round" stroke-linejoin="round" />
<path d="M95,625L180,680Q230,705 265,700M100,590Q140,560 125,520M175,650Q185,620 225,605M90,640L90,850M585,280L600,420" fill="none" stroke="#000" stroke-width="10.8" stroke-linecap="round" stroke-linejoin="round" />
<path d="M390,585Q520,610 620,760Q690,890 760,1000" fill="none" stroke="#000" stroke-width="10.8" stroke-linecap="round" stroke-linejoin="round" />
<path d="M640,920L1024,710M760,1000L1024,860" fill="none" stroke="#000" stroke-width="10.8" stroke-linecap="round" stroke-linejoin="round" /></g>
<g transform="translate(200,130) scale(0.250000)" ><path d="M360,540L560,435M430,582L592,485" fill="none" stroke="#000" stroke-width="5.4" stroke-linecap="round" stroke-linejoin="round" /></g>
<ellipse cx="265.75" cy="274.75" rx="26" ry="43.25" fill="none" stroke="#000" stroke-width="2.8" transform="rotate(-20.7 265.75 274.75)"/>
<ellipse cx="265.6" cy="274.7" rx="23.6" ry="40.8" fill="none" stroke="#000" stroke-width="1.0" transform="rotate(-20.7 265.6 274.7)"/>
<ellipse cx="265.4" cy="274.7" rx="22.6" ry="39.8" fill="none" stroke="#000" stroke-width="1.0" transform="rotate(-20.7 265.4 274.7)"/>
<g transform="translate(280,230) scale(0.146484)" ><path d="M130,570L240,640Q280,655 320,650L940,575L940,290Q935,265 900,240" fill="none" stroke="#000" stroke-width="20.48" stroke-linecap="round" stroke-linejoin="round" />
<path d="M470,140L500,130L680,155L730,135L890,235L900,240" fill="none" stroke="#000" stroke-width="20.48" stroke-linecap="round" stroke-linejoin="round" />
<path d="M0,600Q40,600 60,565Q90,540 130,570" fill="none" stroke="#000" stroke-width="20.48" stroke-linecap="round" stroke-linejoin="round" />
<path d="M310,355L900,240M320,420L925,310M315,425L320,632M210,420L215,600M215,415Q220,365 260,358L310,355M310,355Q320,380 320,420M215,418L318,420" fill="none" stroke="#000" stroke-width="9.216000000000001" stroke-linecap="round" stroke-linejoin="round" />
<path d="M320,632L940,560M215,600Q220,625 240,640" fill="none" stroke="#000" stroke-width="9.216000000000001" stroke-linecap="round" stroke-linejoin="round" />
<path d="M0,30Q60,160 130,260Q180,310 240,350L310,355" fill="none" stroke="#000" stroke-width="9.216000000000001" stroke-linecap="round" stroke-linejoin="round" />
<path d="M190,305Q150,340 155,385L210,420" fill="none" stroke="#000" stroke-width="9.216000000000001" stroke-linecap="round" stroke-linejoin="round" /></g>
<g transform="translate(280,140) scale(0.125000)" ><path d="M45.0,485.0C47.5,467.5 50.8,412.5 60.0,380.0C69.2,347.5 80.0,315.8 100.0,290.0C120.0,264.2 151.7,240.8 180.0,225.0C208.3,209.2 246.7,199.2 270.0,195.0C293.3,190.8 301.0,197.2 320.0,200.0C339.0,202.8 357.3,201.3 384.0,212.0C410.7,222.7 448.0,241.3 480.0,264.0C512.0,286.7 548.0,322.7 576.0,348.0C604.0,373.3 623.3,388.7 648.0,416.0C672.7,443.3 699.3,475.3 724.0,512.0C748.7,548.7 775.3,594.0 796.0,636.0C816.7,678.0 834.8,726.3 848.0,764.0C861.2,801.7 870.5,845.7 875.0,862.0" fill="none" stroke="#000" stroke-width="24.0" stroke-linecap="round" stroke-linejoin="round" />
<path d="M295.0,214.0C299.2,216.3 300.5,218.3 320.0,228.0C339.5,237.7 380.7,251.3 412.0,272.0C443.3,292.7 479.3,325.3 508.0,352.0C536.7,378.7 559.3,403.3 584.0,432.0C608.7,460.7 631.3,488.0 656.0,524.0C680.7,560.0 710.0,606.0 732.0,648.0C754.0,690.0 773.7,735.7 788.0,776.0C802.3,816.3 813.0,871.0 818.0,890.0" fill="none" stroke="#000" stroke-width="24.0" stroke-linecap="round" stroke-linejoin="round" />
<path d="M760.0,560.0C767.5,575.0 787.2,610.0 805.0,650.0C822.8,690.0 852.3,762.5 867.0,800.0C881.7,837.5 888.7,862.5 893.0,875.0" fill="none" stroke="#000" stroke-width="10.8" stroke-linecap="round" stroke-linejoin="round" />
<path d="M560,882L600,886L805,900L862,875" fill="none" stroke="#000" stroke-width="24.0" stroke-linecap="round" stroke-linejoin="round" />
<path d="M45.0,482.0C50.8,475.0 62.5,450.3 80.0,440.0C97.5,429.7 123.3,420.3 150.0,420.0C176.7,419.7 209.2,423.8 240.0,438.0C270.8,452.2 303.3,476.3 335.0,505.0C366.7,533.7 402.5,574.2 430.0,610.0C457.5,645.8 480.0,683.3 500.0,720.0C520.0,756.7 538.0,803.0 550.0,830.0C562.0,857.0 568.3,873.3 572.0,882.0" fill="none" stroke="#000" stroke-width="24.0" stroke-linecap="round" stroke-linejoin="round" />
<path d="M115.0,492.0C125.8,488.3 155.8,470.3 180.0,470.0C204.2,469.7 233.3,475.8 260.0,490.0C286.7,504.2 312.5,527.5 340.0,555.0C367.5,582.5 400.0,620.8 425.0,655.0C450.0,689.2 471.7,727.2 490.0,760.0C508.3,792.8 527.5,836.7 535.0,852.0" fill="none" stroke="#000" stroke-width="16.8" stroke-linecap="round" stroke-linejoin="round" />
<path d="M492,790L535,852" fill="none" stroke="#000" stroke-width="24.0" stroke-linecap="round" stroke-linejoin="round" />
<path d="M358,186L470,125L640,205" fill="none" stroke="#000" stroke-width="24.0" stroke-linecap="round" stroke-linejoin="round" /></g>
<g transform="translate(350,130) scale(0.125000)" ><path d="M-160,265L212,520L335,472L405,415" fill="none" stroke="#000" stroke-width="24.0" stroke-linecap="round" stroke-linejoin="round" />
<path d="M215,525L255,690L330,880L385,1005M330,480L440,760L515,1000" fill="none" stroke="#000" stroke-width="24.0" stroke-linecap="round" stroke-linejoin="round" />
<path d="M252,965L340,1000" fill="none" stroke="#000" stroke-width="16.8" stroke-linecap="round" stroke-linejoin="round" />
<path d="M95,285L190,260L232,275M130,312L215,282M95,285L130,312L185,352" fill="none" stroke="#000" stroke-width="24.0" stroke-linecap="round" stroke-linejoin="round" />
<ellipse cx="292" cy="368" rx="88" ry="52" fill="none" stroke="#000" stroke-width="18.4" transform="rotate(8 292 368)"/>
<path d="M225,395Q290,425 360,398" fill="none" stroke="#000" stroke-width="16.8" stroke-linecap="round" stroke-linejoin="round" />
<path d="M270,415L325,440L405,410" fill="none" stroke="#000" stroke-width="24.0" stroke-linecap="round" stroke-linejoin="round" />
<path d="M400.0,412.0C409.2,421.7 435.8,445.3 455.0,470.0C474.2,494.7 496.7,523.3 515.0,560.0C533.3,596.7 556.7,668.3 565.0,690.0" fill="none" stroke="#000" stroke-width="24.0" stroke-linecap="round" stroke-linejoin="round" />
<path d="M215,385Q290,432 372,392" fill="none" stroke="#000" stroke-width="28.8" stroke-linecap="round" stroke-linejoin="round" /></g></g>
<g transform="translate(290,45) scale(0.125000)" ><path d="M120,110Q135,80 170,75L310,62Q335,62 350,75L660,345L690,350L850,460Q885,485 885,520L885,840" fill="none" stroke="#000" stroke-width="24.0" stroke-linecap="round" stroke-linejoin="round" />
<path d="M120,110L55,335L55,400Q75,520 150,650Q200,715 340,830L410,880L560,965" fill="none" stroke="#000" stroke-width="24.0" stroke-linecap="round" stroke-linejoin="round" />
<path d="M180,85L545,385L720,520" fill="none" stroke="#000" stroke-width="24.0" stroke-linecap="round" stroke-linejoin="round" />
<path d="M60,332L530,357L655,348" fill="none" stroke="#000" stroke-width="16.8" stroke-linecap="round" stroke-linejoin="round" />
<path d="M60,375L545,410L680,362" fill="none" stroke="#000" stroke-width="16.8" stroke-linecap="round" stroke-linejoin="round" />
<path d="M720,520L600,630Q560,660 560,710L560,960" fill="none" stroke="#000" stroke-width="24.0" stroke-linecap="round" stroke-linejoin="round" />
<path d="M720,520L860,575L885,520" fill="none" stroke="#000" stroke-width="24.0" stroke-linecap="round" stroke-linejoin="round" />
<path d="M610,645L720,700L845,590" fill="none" stroke="#000" stroke-width="24.0" stroke-linecap="round" stroke-linejoin="round" />
<path d="M720,700L600,775L720,890L760,900L1024,1000" fill="none" stroke="#000" stroke-width="24.0" stroke-linecap="round" stroke-linejoin="round" />
<path d="M720,705L840,830L885,840M840,830L730,890M840,830L1024,900" fill="none" stroke="#000" stroke-width="24.0" stroke-linecap="round" stroke-linejoin="round" />
<path d="M595,780L595,950M845,590L845,830M740,520L830,470" fill="none" stroke="#000" stroke-width="10.8" stroke-linecap="round" stroke-linejoin="round" />
<path d="M65,395L405,865M85,410L455,885" fill="none" stroke="#000" stroke-width="10.8" stroke-linecap="round" stroke-linejoin="round" />
<path d="M225,95L320,85" fill="none" stroke="#000" stroke-width="10.8" stroke-linecap="round" stroke-linejoin="round" /></g>
<g transform="translate(350,130) scale(0.125000)" ><path d="M75,0L75,280M405,0L405,160" fill="none" stroke="#000" stroke-width="24.0" stroke-linecap="round" stroke-linejoin="round" />
<path d="M370,0L370,150M115,100L115,270" fill="none" stroke="#000" stroke-width="10.8" stroke-linecap="round" stroke-linejoin="round" />
<path d="M75,40Q85,80 130,95L250,40M130,95L250,215L300,230M250,40L360,150L405,160M360,150L250,212" fill="none" stroke="#000" stroke-width="24.0" stroke-linecap="round" stroke-linejoin="round" />
<path d="M405,165L540,225Q640,300 730,420Q790,560 810,700Q810,760 790,790Q760,840 700,857" fill="none" stroke="#000" stroke-width="24.0" stroke-linecap="round" stroke-linejoin="round" />
<path d="M270,220Q400,255 500,340Q590,470 660,610Q700,750 690,870Q660,950 580,985" fill="none" stroke="#000" stroke-width="24.0" stroke-linecap="round" stroke-linejoin="round" />
<path d="M512.0,357.0C524.5,369.5 564.0,398.2 587.0,432.0C610.0,465.8 633.2,517.0 650.0,560.0C666.8,603.0 680.0,656.7 688.0,690.0C696.0,723.3 696.3,748.3 698.0,760.0" fill="none" stroke="#000" stroke-width="31.2" stroke-linecap="round" stroke-linejoin="round" />
<path d="M440,290L545,250" fill="none" stroke="#000" stroke-width="10.8" stroke-linecap="round" stroke-linejoin="round" />
<path d="M494,357L462,382L405,325" fill="none" stroke="#000" stroke-width="24.0" stroke-linecap="round" stroke-linejoin="round" />
<path d="M640,275L685,252L745,290L750,320M720,380L780,325Q815,325 825,345L905,545L815,605L820,665" fill="none" stroke="#000" stroke-width="24.0" stroke-linecap="round" stroke-linejoin="round" />
<path d="M725,385L800,580L815,605M655,295L720,330L745,292M690,315L695,270" fill="none" stroke="#000" stroke-width="16.8" stroke-linecap="round" stroke-linejoin="round" />
<path d="M435,750L565,695L592,702" fill="none" stroke="#000" stroke-width="24.0" stroke-linecap="round" stroke-linejoin="round" />
<path d="M470,835Q490,790 560,780Q615,790 605,850Q590,900 555,912" fill="none" stroke="#000" stroke-width="24.0" stroke-linecap="round" stroke-linejoin="round" />
<path d="M480,875Q500,820 545,798M500,942L575,905L580,992L520,1010" fill="none" stroke="#000" stroke-width="16.8" stroke-linecap="round" stroke-linejoin="round" /></g>
<g transform="translate(210,212) scale(0.125000)" ><path d="M310,385Q330,345 380,332Q450,345 510,420Q540,470 550,538L620,590L612,665L310,465Z" fill="none" stroke="#000" stroke-width="21.6" stroke-linecap="round" stroke-linejoin="round" />
<path d="M338,402Q430,425 505,485Q535,510 548,538" fill="none" stroke="#000" stroke-width="19.2" stroke-linecap="round" stroke-linejoin="round" />
<path d="M340,405L342,452L598,628" fill="none" stroke="#000" stroke-width="13.6" stroke-linecap="round" stroke-linejoin="round" /></g>
</g>
<g id="key1">
<g transform="translate(20,260) scale(0.222656)" ><path d="M67,385L67,480Q70,515 95,535L210,607Q320,632 440,612L580,542Q605,520 607,490L607,380Z" fill="#fff" stroke="#000" stroke-width="13.473684210526315" stroke-linecap="round" stroke-linejoin="round" />
<path d="M68,435Q72,468 95,488L210,560Q320,585 440,565L580,497Q603,478 605,440" fill="none" stroke="#000" stroke-width="13.024561403508772" stroke-linecap="round" stroke-linejoin="round" />
<path d="M92,445L92,532M210,532L210,606M436,530L436,611M577,462L580,540" fill="none" stroke="#000" stroke-width="13.024561403508772" stroke-linecap="round" stroke-linejoin="round" />
<path d="M69,390Q67,345 98,311L250,237Q340,220 460,245L585,325Q607,350 607,385Q607,430 572,456L432,526Q320,550 210,530L92,442Q76,420 75,390Z" fill="#000" stroke="#000" stroke-width="8.982456140350877" stroke-linecap="round" stroke-linejoin="round" />
<g transform="translate(340,385) scale(0.957,0.94) translate(-340,-385)"><path d="M75,390Q72,345 100,312L250,237Q340,220 460,245L585,325Q607,350 607,385Q607,430 572,456L432,526Q320,550 210,530L92,442Q76,420 75,390Z" fill="none" stroke="#fff" stroke-width="2.2" stroke-linecap="round" stroke-linejoin="round" stroke-dasharray="60 14 30 10" /></g>
<path d="M152,407Q152,392 170,390L241,390Q285,410 314,438L320,455L314,472L292,483Q260,478 230,466Q195,455 180,443Q155,425 152,407Z" fill="#fff" stroke="#fff" stroke-width="2.245614035087719" stroke-linecap="round" stroke-linejoin="round" />
<path d="M160,428Q200,412 247,430" fill="none" stroke="#000" stroke-width="18.86315789473684" stroke-linecap="butt" stroke-linejoin="round" />
<path d="M248,402L248,468" fill="none" stroke="#000" stroke-width="13.473684210526315" stroke-linecap="butt" stroke-linejoin="round" />
<path d="M253,436Q282,450 298,473" fill="none" stroke="#000" stroke-width="15.27017543859649" stroke-linecap="butt" stroke-linejoin="round" />
<path d="M309,352L326,348L320,370ZM382,424L404,415L402,427Z" fill="#fff" stroke="#fff" stroke-width="1.7964912280701755" stroke-linecap="round" stroke-linejoin="round" />
<path d="M500,252L520,240L545,255L870,100L930,100Q952,105 950,125L940,198L930,212L845,252L832,228L762,242L742,276L722,272L716,302L652,322L656,370L612,382" fill="none" stroke="#000" stroke-width="13.024561403508772" stroke-linecap="round" stroke-linejoin="round" />
<path d="M650,345L716,322L722,292L742,296L760,262L835,246M845,232L938,188" fill="none" stroke="#000" stroke-width="9.880701754385965" stroke-linecap="round" stroke-linejoin="round" />
<path d="M770,242L768,262M790,238L788,258M810,234L808,254" fill="none" stroke="#000" stroke-width="9.880701754385965" stroke-linecap="round" stroke-linejoin="round" />
<path d="M930,105L940,125" fill="none" stroke="#000" stroke-width="5.389473684210526" stroke-linecap="round" stroke-linejoin="round" /></g>
</g>
<g id="lock2">
<g transform="translate(16.5,309.5)" ><g transform="translate(210,150) scale(0.125000)" ><path d="M620,235L415,100L80,540Q60,570 62,610L62,825Q65,855 90,870L215,950" fill="none" stroke="#000" stroke-width="24.0" stroke-linecap="round" stroke-linejoin="round" />
<path d="M565,275L565,425M565,275L605,255L620,235" fill="none" stroke="#000" stroke-width="24.0" stroke-linecap="round" stroke-linejoin="round" />
<path d="M225,600L565,435M280,612L610,452L640,435" fill="none" stroke="#000" stroke-width="24.0" stroke-linecap="round" stroke-linejoin="round" />
<path d="M420,125L125,515Q110,545 130,565L215,605L240,600" fill="none" stroke="#000" stroke-width="10.8" stroke-linecap="round" stroke-linejoin="round" />
<path d="M95,625L180,680Q230,705 265,700M100,590Q140,560 125,520M175,650Q185,620 225,605M90,640L90,850M585,280L600,420" fill="none" stroke="#000" stroke-width="10.8" stroke-linecap="round" stroke-linejoin="round" />
<path d="M390,585Q520,610 620,760Q690,890 760,1000" fill="none" stroke="#000" stroke-width="10.8" stroke-linecap="round" stroke-linejoin="round" />
<path d="M640,920L1024,710M760,1000L1024,860" fill="none" stroke="#000" stroke-width="10.8" stroke-linecap="round" stroke-linejoin="round" /></g>
<g transform="translate(200,130) scale(0.250000)" ><path d="M360,540L560,435M430,582L592,485" fill="none" stroke="#000" stroke-width="5.4" stroke-linecap="round" stroke-linejoin="round" /></g>
<ellipse cx="265.75" cy="274.75" rx="26" ry="43.25" fill="none" stroke="#000" stroke-width="2.8" transform="rotate(-20.7 265.75 274.75)"/>
<ellipse cx="263.6" cy="274.2" rx="21.3" ry="37.3" fill="none" stroke="#000" stroke-width="2.5" transform="rotate(-20.7 263.6 274.2)"/>
<g transform="translate(280,230) scale(0.146484)" ><path d="M130,570L240,640Q280,655 320,650L940,575L940,290Q935,265 900,240" fill="none" stroke="#000" stroke-width="20.48" stroke-linecap="round" stroke-linejoin="round" />
<path d="M470,140L500,130L680,155L730,135L890,235L900,240" fill="none" stroke="#000" stroke-width="20.48" stroke-linecap="round" stroke-linejoin="round" />
<path d="M0,600Q40,600 60,565Q90,540 130,570" fill="none" stroke="#000" stroke-width="20.48" stroke-linecap="round" stroke-linejoin="round" />
<path d="M310,355L900,240M320,420L925,310M315,425L320,632M210,420L215,600M215,415Q220,365 260,358L310,355M310,355Q320,380 320,420M215,418L318,420" fill="none" stroke="#000" stroke-width="9.216000000000001" stroke-linecap="round" stroke-linejoin="round" />
<path d="M320,632L940,560M215,600Q220,625 240,640" fill="none" stroke="#000" stroke-width="9.216000000000001" stroke-linecap="round" stroke-linejoin="round" />
<path d="M0,30Q60,160 130,260Q180,310 240,350L310,355" fill="none" stroke="#000" stroke-width="9.216000000000001" stroke-linecap="round" stroke-linejoin="round" />
<path d="M190,305Q150,340 155,385L210,420" fill="none" stroke="#000" stroke-width="9.216000000000001" stroke-linecap="round" stroke-linejoin="round" /></g>
<g transform="translate(280,140) scale(0.125000)" ><path d="M45.0,485.0C47.5,467.5 50.8,412.5 60.0,380.0C69.2,347.5 80.0,315.8 100.0,290.0C120.0,264.2 151.7,240.8 180.0,225.0C208.3,209.2 246.7,199.2 270.0,195.0C293.3,190.8 301.0,197.2 320.0,200.0C339.0,202.8 357.3,201.3 384.0,212.0C410.7,222.7 448.0,241.3 480.0,264.0C512.0,286.7 548.0,322.7 576.0,348.0C604.0,373.3 623.3,388.7 648.0,416.0C672.7,443.3 699.3,475.3 724.0,512.0C748.7,548.7 775.3,594.0 796.0,636.0C816.7,678.0 834.8,726.3 848.0,764.0C861.2,801.7 870.5,845.7 875.0,862.0" fill="none" stroke="#000" stroke-width="24.0" stroke-linecap="round" stroke-linejoin="round" />
<path d="M295.0,214.0C299.2,216.3 300.5,218.3 320.0,228.0C339.5,237.7 380.7,251.3 412.0,272.0C443.3,292.7 479.3,325.3 508.0,352.0C536.7,378.7 559.3,403.3 584.0,432.0C608.7,460.7 631.3,488.0 656.0,524.0C680.7,560.0 710.0,606.0 732.0,648.0C754.0,690.0 773.7,735.7 788.0,776.0C802.3,816.3 813.0,871.0 818.0,890.0" fill="none" stroke="#000" stroke-width="24.0" stroke-linecap="round" stroke-linejoin="round" />
<path d="M760.0,560.0C767.5,575.0 787.2,610.0 805.0,650.0C822.8,690.0 852.3,762.5 867.0,800.0C881.7,837.5 888.7,862.5 893.0,875.0" fill="none" stroke="#000" stroke-width="10.8" stroke-linecap="round" stroke-linejoin="round" />
<path d="M560,882L600,886L805,900L862,875" fill="none" stroke="#000" stroke-width="24.0" stroke-linecap="round" stroke-linejoin="round" />
<path d="M45.0,482.0C50.8,475.0 62.5,450.3 80.0,440.0C97.5,429.7 123.3,420.3 150.0,420.0C176.7,419.7 209.2,423.8 240.0,438.0C270.8,452.2 303.3,476.3 335.0,505.0C366.7,533.7 402.5,574.2 430.0,610.0C457.5,645.8 480.0,683.3 500.0,720.0C520.0,756.7 538.0,803.0 550.0,830.0C562.0,857.0 568.3,873.3 572.0,882.0" fill="none" stroke="#000" stroke-width="24.0" stroke-linecap="round" stroke-linejoin="round" />
<path d="M115.0,492.0C125.8,488.3 155.8,470.3 180.0,470.0C204.2,469.7 233.3,475.8 260.0,490.0C286.7,504.2 312.5,527.5 340.0,555.0C367.5,582.5 400.0,620.8 425.0,655.0C450.0,689.2 471.7,727.2 490.0,760.0C508.3,792.8 527.5,836.7 535.0,852.0" fill="none" stroke="#000" stroke-width="16.8" stroke-linecap="round" stroke-linejoin="round" />
<path d="M492,790L535,852" fill="none" stroke="#000" stroke-width="24.0" stroke-linecap="round" stroke-linejoin="round" />
<path d="M358,186L470,125L640,205" fill="none" stroke="#000" stroke-width="24.0" stroke-linecap="round" stroke-linejoin="round" /></g>
<g transform="translate(350,130) scale(0.125000)" ><path d="M-160,265L212,520L335,472L405,415" fill="none" stroke="#000" stroke-width="24.0" stroke-linecap="round" stroke-linejoin="round" />
<path d="M215,525L255,690L330,880L385,1005M330,480L440,760L515,1000" fill="none" stroke="#000" stroke-width="24.0" stroke-linecap="round" stroke-linejoin="round" />
<path d="M252,965L340,1000" fill="none" stroke="#000" stroke-width="16.8" stroke-linecap="round" stroke-linejoin="round" />
<path d="M95,285L190,260L232,275M130,312L215,282M95,285L130,312L185,352" fill="none" stroke="#000" stroke-width="24.0" stroke-linecap="round" stroke-linejoin="round" />
<ellipse cx="292" cy="368" rx="88" ry="52" fill="none" stroke="#000" stroke-width="18.4" transform="rotate(8 292 368)"/>
<path d="M225,395Q290,425 360,398" fill="none" stroke="#000" stroke-width="16.8" stroke-linecap="round" stroke-linejoin="round" />
<path d="M270,415L325,440L405,410" fill="none" stroke="#000" stroke-width="24.0" stroke-linecap="round" stroke-linejoin="round" />
<path d="M400.0,412.0C409.2,421.7 435.8,445.3 455.0,470.0C474.2,494.7 496.7,523.3 515.0,560.0C533.3,596.7 556.7,668.3 565.0,690.0" fill="none" stroke="#000" stroke-width="24.0" stroke-linecap="round" stroke-linejoin="round" />
<path d="M215,385Q290,432 372,392" fill="none" stroke="#000" stroke-width="28.8" stroke-linecap="round" stroke-linejoin="round" /></g></g>
<g transform="translate(315,355) scale(0.125000)" ><path d="M125,100Q140,65 175,60L315,47Q340,47 355,60L660,330L690,335L830,440Q865,465 865,500L865,860" fill="none" stroke="#000" stroke-width="24.0" stroke-linecap="round" stroke-linejoin="round" />
<path d="M125,100L60,320L60,385Q80,505 150,630Q200,700 330,810L480,920" fill="none" stroke="#000" stroke-width="24.0" stroke-linecap="round" stroke-linejoin="round" />
<path d="M185,70L545,375L690,490" fill="none" stroke="#000" stroke-width="24.0" stroke-linecap="round" stroke-linejoin="round" />
<path d="M65,318L530,343L655,335" fill="none" stroke="#000" stroke-width="16.8" stroke-linecap="round" stroke-linejoin="round" />
<path d="M65,360L545,395L680,348" fill="none" stroke="#000" stroke-width="16.8" stroke-linecap="round" stroke-linejoin="round" />
<path d="M690,490L530,640Q490,670 490,720L490,960" fill="none" stroke="#000" stroke-width="24.0" stroke-linecap="round" stroke-linejoin="round" />
<path d="M670,530L780,565L855,540" fill="none" stroke="#000" stroke-width="24.0" stroke-linecap="round" stroke-linejoin="round" />
<path d="M540,650L645,700L775,570" fill="none" stroke="#000" stroke-width="24.0" stroke-linecap="round" stroke-linejoin="round" />
<path d="M650,705L535,770L650,890L700,900L1024,1010" fill="none" stroke="#000" stroke-width="24.0" stroke-linecap="round" stroke-linejoin="round" />
<path d="M655,710L770,835L865,860M770,835L660,890M770,835L1024,940" fill="none" stroke="#000" stroke-width="24.0" stroke-linecap="round" stroke-linejoin="round" />
<path d="M525,780L525,950M825,560L825,850M720,500L810,440M700,500L800,545M950,935L880,975" fill="none" stroke="#000" stroke-width="10.8" stroke-linecap="round" stroke-linejoin="round" />
<path d="M70,380L465,905M90,395L480,900" fill="none" stroke="#000" stroke-width="10.8" stroke-linecap="round" stroke-linejoin="round" />
<path d="M235,80L325,70" fill="none" stroke="#000" stroke-width="10.8" stroke-linecap="round" stroke-linejoin="round" /></g>
<g transform="translate(360,440) scale(0.125000)" ><path d="M130,200L130,280M510,100L510,185" fill="none" stroke="#000" stroke-width="24.0" stroke-linecap="round" stroke-linejoin="round" />
<path d="M165,230L165,270" fill="none" stroke="#000" stroke-width="10.8" stroke-linecap="round" stroke-linejoin="round" />
<path d="M300,215L350,235" fill="none" stroke="#000" stroke-width="24.0" stroke-linecap="round" stroke-linejoin="round" />
<path d="M510.0,190.0C525.0,196.7 568.3,210.0 600.0,230.0C631.7,250.0 670.0,278.3 700.0,310.0C730.0,341.7 756.7,378.3 780.0,420.0C803.3,461.7 825.8,513.3 840.0,560.0C854.2,606.7 863.3,663.3 865.0,700.0C866.7,736.7 859.2,758.3 850.0,780.0C840.8,801.7 825.0,817.5 810.0,830.0C795.0,842.5 768.3,850.8 760.0,855.0" fill="none" stroke="#000" stroke-width="24.0" stroke-linecap="round" stroke-linejoin="round" />
<path d="M350.0,235.0C366.7,240.8 418.3,252.5 450.0,270.0C481.7,287.5 511.7,310.0 540.0,340.0C568.3,370.0 595.0,408.3 620.0,450.0C645.0,491.7 670.8,545.0 690.0,590.0C709.2,635.0 726.7,680.0 735.0,720.0C743.3,760.0 744.2,796.7 740.0,830.0C735.8,863.3 726.7,895.8 710.0,920.0C693.3,944.2 651.7,965.8 640.0,975.0" fill="none" stroke="#000" stroke-width="24.0" stroke-linecap="round" stroke-linejoin="round" />
<path d="M562.0,356.0C576.7,369.5 625.0,402.7 650.0,437.0C675.0,471.3 697.0,526.5 712.0,562.0C727.0,597.5 733.7,616.2 740.0,650.0C746.3,683.8 748.3,745.8 750.0,765.0" fill="none" stroke="#000" stroke-width="32.0" stroke-linecap="round" stroke-linejoin="round" />
<path d="M494,294L587,253" fill="none" stroke="#000" stroke-width="10.8" stroke-linecap="round" stroke-linejoin="round" />
<path d="M537,350L519,381L494,362L425,305" fill="none" stroke="#000" stroke-width="24.0" stroke-linecap="round" stroke-linejoin="round" />
<path d="M510,745L610,700L635,705" fill="none" stroke="#000" stroke-width="24.0" stroke-linecap="round" stroke-linejoin="round" />
<path d="M540.0,840.0C543.3,833.3 548.3,810.0 560.0,800.0C571.7,790.0 594.2,780.0 610.0,780.0C625.8,780.0 646.7,788.3 655.0,800.0C663.3,811.7 663.3,835.0 660.0,850.0C656.7,865.0 643.3,880.0 635.0,890.0C626.7,900.0 614.2,906.7 610.0,910.0" fill="none" stroke="#000" stroke-width="24.0" stroke-linecap="round" stroke-linejoin="round" />
<path d="M530,870Q550,830 590,810M545,945L625,905L630,990L570,1010" fill="none" stroke="#000" stroke-width="16.8" stroke-linecap="round" stroke-linejoin="round" /></g>
<g transform="translate(226,520) scale(0.125000)" ><path d="M315,408L340,400L600,592L590,658L318,482Z" fill="none" stroke="#000" stroke-width="18.4" stroke-linecap="round" stroke-linejoin="round" />
<circle cx="440" cy="535" r="68" fill="none" stroke="#000" stroke-width="16.0"/>
<path d="M498,528L600,592L590,658L496,592Z" fill="#000" stroke="#000" stroke-width="8.0" stroke-linecap="round" stroke-linejoin="round" />
<path d="M515,578L582,622" fill="none" stroke="#fff" stroke-width="7.2" stroke-linecap="round" stroke-linejoin="round" />
<path d="M342,420L342,470M342,445L480,520M400,430Q440,420 470,470" fill="none" stroke="#000" stroke-width="16.8" stroke-linecap="round" stroke-linejoin="round" /></g>
</g>
<g id="key2">
<g transform="translate(50,575) scale(0.214844)" ><ellipse cx="312" cy="424" rx="246" ry="153" fill="none" stroke="#000" stroke-width="13.032599999999999" transform="rotate(-6 312 424)"/>
<ellipse cx="320" cy="405" rx="226" ry="133" fill="#fff" stroke="#000" stroke-width="12.1017" transform="rotate(-6 320 405)"/>
<ellipse cx="228" cy="452" rx="68" ry="42" fill="none" stroke="#000" stroke-width="12.56715" transform="rotate(-3 228 452)"/>
<path d="M183,465Q230,438 277,462Q230,492 183,465Z" fill="none" stroke="#000" stroke-width="6.9818181818181815" stroke-linecap="round" stroke-linejoin="round" />
<path d="M420,277L500,235L525,246L860,85L925,85Q952,92 950,110L940,185L925,197L840,242L826,217L752,236L736,271L706,266L700,301L640,326L641,360L560,392" fill="none" stroke="#000" stroke-width="12.567272727272728" stroke-linecap="round" stroke-linejoin="round" />
<path d="M548,372L640,338M646,312L700,288L706,278L736,283L750,250L828,232M840,224L936,181" fill="none" stroke="#000" stroke-width="8.843636363636362" stroke-linecap="round" stroke-linejoin="round" />
<path d="M548,372L552,392" fill="none" stroke="#000" stroke-width="8.843636363636362" stroke-linecap="round" stroke-linejoin="round" />
<path d="M762,234L760,254M782,230L780,250M802,226L800,246M822,221L822,240" fill="none" stroke="#000" stroke-width="8.843636363636362" stroke-linecap="round" stroke-linejoin="round" /></g>
<ellipse cx="520.3" cy="55.6" rx="0.9" ry="1.1" fill="#111"/>
</g>
</svg>
</body></html>
